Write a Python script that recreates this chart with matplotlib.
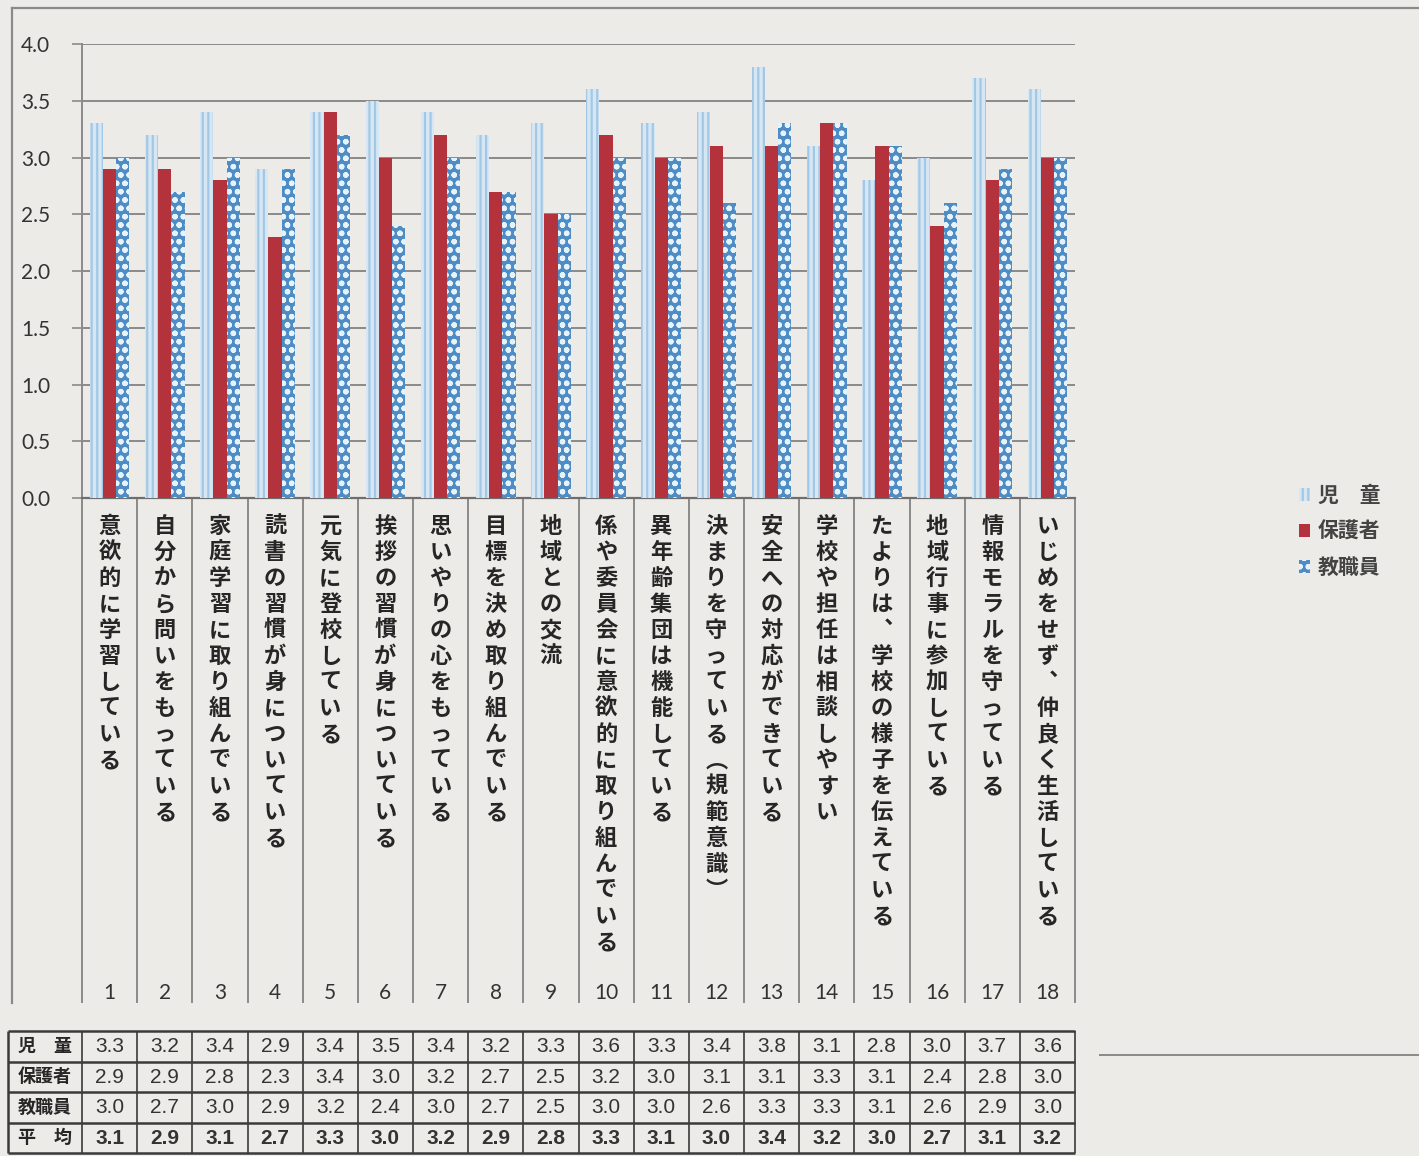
import matplotlib
matplotlib.use("Agg")
import matplotlib.pyplot as plt
import matplotlib.transforms as mtransforms
from matplotlib.lines import Line2D
import numpy as np

# ==========================================
# DATOS
# ==========================================
categorias = [
    "意欲的に学習している",
    "自分から問いをもっている",
    "家庭学習に取り組んでいる",
    "読書の習慣が身についている",
    "元気に登校している",
    "挨拶の習慣が身についている",
    "思いやりの心をもっている",
    "目標を決め取り組んでいる",
    "地域との交流",
    "係や委員会に意欲的に取り組んでいる",
    "異年齢集団は機能している",
    "決まりを守っている︵規範意識︶",
    "安全への対応ができている",
    "学校や担任は相談しやすい",
    "たよりは︑学校の様子を伝えている",
    "地域行事に参加している",
    "情報モラルを守っている",
    "いじめをせず︑仲良く生活している",
]
numeros = [str(i) for i in range(1, 19)]

jido = [3.3, 3.2, 3.4, 2.9, 3.4, 3.5, 3.4, 3.2, 3.3, 3.6, 3.3, 3.4, 3.8, 3.1, 2.8, 3.0, 3.7, 3.6]
hogosha = [2.9, 2.9, 2.8, 2.3, 3.4, 3.0, 3.2, 2.7, 2.5, 3.2, 3.0, 3.1, 3.1, 3.3, 3.1, 2.4, 2.8, 3.0]
kyoshokuin = [3.0, 2.7, 3.0, 2.9, 3.2, 2.4, 3.0, 2.7, 2.5, 3.0, 3.0, 2.6, 3.3, 3.3, 3.1, 2.6, 2.9, 3.0]
heikin = [3.1, 2.9, 3.1, 2.7, 3.3, 3.0, 3.2, 2.9, 2.8, 3.3, 3.1, 3.0, 3.4, 3.2, 3.0, 2.7, 3.1, 3.2]

series_labels = ["児　童", "保護者", "教職員"]
fila_labels = ["児　童", "保護者", "教職員", "平　均"]

# ==========================================
# ESTILO
# ==========================================
W, H = 1419, 1156
FONDO = "#ecebe8"
TEXTO = "#333333"
LINEA = "#8a8a8a"
JP = ["Noto Sans CJK JP", "DejaVu Sans"]
NUM = ["Lato", "DejaVu Sans"]
TAB = ["Liberation Sans Narrow", "Liberation Sans", "DejaVu Sans"]

plt.rcParams["hatch.linewidth"] = 1.6


def fx(x):
    return x / W


def fy(y):
    return 1 - y / H


fig = plt.figure(figsize=(W / 100, H / 100), dpi=100, facecolor=FONDO)

# --- grafico principal ---
ax = fig.add_axes([fx(82), fy(498), fx(1075) - fx(82), fy(44) - fy(498)])
ax.set_facecolor(FONDO)
n = len(categorias)
x = np.arange(n) + 0.5
ancho = 0.24

b1 = ax.bar(x - ancho, jido, ancho, color="#d6e7f3", edgecolor="#a3c8e6",
            hatch="|||", linewidth=0, zorder=3)
b2 = ax.bar(x, hogosha, ancho, color="#b3323b", linewidth=0, zorder=3)
b3 = ax.bar(x + ancho, kyoshokuin, ancho, color="#4f8cc4", edgecolor="#e6f3fb",
            hatch="oo", linewidth=0, zorder=3)

ax.set_xlim(0, n)
ax.set_ylim(0, 4)
ax.set_yticks(np.arange(0, 4.01, 0.5))
ax.set_yticklabels([f"{v:.1f}" for v in np.arange(0, 4.01, 0.5)],
                   fontsize=15, family=NUM, color=TEXTO)
ax.set_xticks([])
ax.yaxis.grid(True, color=LINEA, linewidth=1.4)
ax.set_axisbelow(True)
ax.tick_params(axis="y", length=7, width=1.2, color=LINEA, pad=16)
for s in ["top", "right"]:
    ax.spines[s].set_visible(False)
ax.spines["left"].set_color(LINEA)
ax.spines["left"].set_linewidth(1.4)
ax.spines["bottom"].set_color("#6e6e6e")
ax.spines["bottom"].set_linewidth(1.6)

# zona de etiquetas de categorias (debajo del eje)
alto_ax = 498 - 44
fondo_etq = -(1003 - 498) / alto_ax
trans = mtransforms.blended_transform_factory(ax.transData, ax.transAxes)
ax.vlines(np.arange(n + 1), fondo_etq, 0, transform=trans, color=LINEA,
          linewidth=1.4, clip_on=False)

paso = 26 / alto_ax
for i, etq in enumerate(categorias):
    for j, ch in enumerate(etq):
        ax.text(x[i], -(515 - 498) / alto_ax - j * paso, ch, transform=trans,
                ha="center", va="top", fontsize=16, family=JP,
                fontweight="bold", color="#262626")
    ax.text(x[i], -(993 - 498) / alto_ax, numeros[i], transform=trans,
            ha="center", va="center", fontsize=15, family=NUM, color=TEXTO)

# --- tabla de datos ---
axt = fig.add_axes([fx(82), fy(1153), fx(1075) - fx(82), fy(1031) - fy(1153)])
axt.set_xlim(0, n)
axt.set_ylim(4, 0)
axt.axis("off")
col_cab = -74 / (993 / n)
filas = [jido, hogosha, kyoshokuin, heikin]
COL_TAB = "#3a3a3a"
axt.hlines(np.arange(5), col_cab, n, color=COL_TAB, linewidth=1.8, clip_on=False)
axt.vlines(np.arange(n + 1), 0, 4, color=COL_TAB, linewidth=1.2, clip_on=False)
axt.vlines([col_cab], 0, 4, color=COL_TAB, linewidth=1.8, clip_on=False)
for r, fila in enumerate(filas):
    axt.text(col_cab / 2, r + 0.5, fila_labels[r], ha="center", va="center",
             fontsize=13, family=JP, fontweight="bold", color="#262626",
             clip_on=False)
    for c, v in enumerate(fila):
        axt.text(c + 0.5, r + 0.52, f"{v:.1f}", ha="center", va="center",
                 fontsize=15, family=TAB, color="#333333",
                 fontweight="bold" if r == 3 else "normal")

# --- leyenda ---
fig.legend([b1, b2, b3], series_labels, loc="upper left",
           bbox_to_anchor=(fx(1280), fy(466)), frameon=False,
           prop={"family": JP, "size": 15, "weight": "bold"},
           handlelength=0.55, handleheight=0.55, handletextpad=0.35,
           labelspacing=0.72, labelcolor="#444444")

# --- marcos del escaneo ---
fig.add_artist(Line2D([fx(12), 1], [fy(8), fy(8)], color=LINEA, linewidth=1.6))
fig.add_artist(Line2D([fx(12), fx(12)], [fy(8), fy(1003)], color=LINEA, linewidth=1.6))
fig.add_artist(Line2D([fx(1100), 1], [fy(1055), fy(1055)], color=LINEA, linewidth=1.4))

fig.savefig("out.png", dpi=100, facecolor=FONDO)
